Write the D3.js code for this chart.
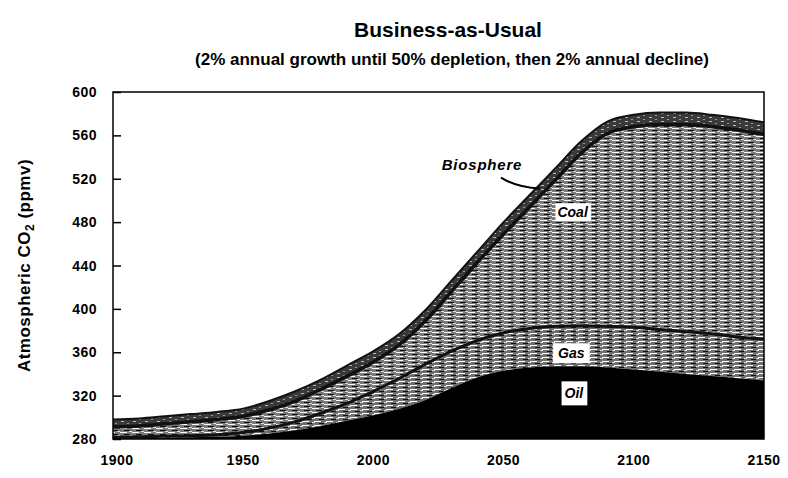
<!DOCTYPE html>
<html>
<head>
<meta charset="utf-8">
<script src="https://cdn.jsdelivr.net/npm/d3@7"></script>
<style>
  body { margin: 0; background: #fff; }
  text { font-family: "Liberation Sans", Arial, sans-serif; }
</style>
</head>
<body>
<div id="chart"></div>
<script>
// years and the top of each stacked layer (ppmv)
const years = [1900, 1910, 1920, 1930, 1940, 1950, 1960, 1970, 1980, 1990, 2000, 2010, 2020,
               2030, 2040, 2050, 2060, 2070, 2080, 2090, 2100, 2110, 2120, 2130, 2140, 2150];
const oilTop = [280.5, 280.8, 281, 281.5, 282, 283, 285, 288, 292, 297, 302, 308, 316,
                327, 337, 343, 346, 347, 347, 346, 344, 342, 340, 338, 336, 334];
const gasTop = [281.5, 282, 282.5, 283, 284, 286, 290, 296, 304, 313, 324, 336, 349,
                361, 371, 378, 382, 384, 384.5, 384, 383, 381, 379, 377, 374, 372];
const coalTop = [291, 292, 294, 296, 298, 301, 307, 315, 326, 338, 351, 367, 389,
                 416, 443, 469, 494, 519, 544, 562, 568, 570, 570, 568, 565, 561];
const bioTop = [298, 299, 301, 303, 305, 308, 315, 324, 335, 348, 361, 377, 399,
                426, 453, 480, 505, 530, 555, 573, 579, 581, 581, 579, 576, 572];
const baseline = 280;

const yTicks = [280, 320, 360, 400, 440, 480, 520, 560, 600];
const xTicks = [1900, 1950, 2000, 2050, 2100, 2150];

const width = 788, height = 478;
const svg = d3.select("#chart").append("svg")
    .attr("width", width)
    .attr("height", height);

const x = d3.scaleLinear().domain([1900, 2150]).range([113, 764]);
const y = d3.scaleLinear().domain([280, 600]).range([439, 92]);

// hatched fills that mimic the scanned halftone
const defs = svg.append("defs");
function hatch(id, bg, marks) {
    const p = defs.append("pattern")
        .attr("id", id)
        .attr("patternUnits", "userSpaceOnUse")
        .attr("width", 12).attr("height", 4);
    p.append("rect").attr("width", 12).attr("height", 4).attr("fill", bg);
    marks.forEach(m => p.append("rect")
        .attr("x", m[0]).attr("y", m[1]).attr("width", m[2]).attr("height", 1)
        .attr("fill", m[3]));
}
hatch("coalFill", "#7a7a7a", [[0, 0, 7, "#fff"], [4, 2, 6, "#111"], [9, 3, 3, "#ddd"]]);
hatch("gasFill", "#6e6e6e", [[2, 1, 7, "#fff"], [7, 3, 5, "#111"], [0, 2, 3, "#ddd"]]);
hatch("bioFill", "#3a3a3a", [[1, 1, 3, "#bbb"], [7, 3, 2, "#999"]]);

const rows = years.map((yr, i) => ({
    year: yr, base: baseline, oil: oilTop[i], gas: gasTop[i], coal: coalTop[i], bio: bioTop[i]
}));

const layers = [
    { lo: "coal", hi: "bio", fill: "url(#bioFill)" },
    { lo: "gas", hi: "coal", fill: "url(#coalFill)" },
    { lo: "oil", hi: "gas", fill: "url(#gasFill)" },
    { lo: "base", hi: "oil", fill: "#000" }
];

layers.forEach(l => {
    svg.append("path")
        .datum(rows)
        .attr("fill", l.fill)
        .attr("d", d3.area()
            .curve(d3.curveMonotoneX)
            .x(d => x(d.year))
            .y0(d => y(d[l.lo]))
            .y1(d => y(d[l.hi])));
});

// dark boundary lines between layers
[["bio", 2], ["coal", 3.5], ["gas", 3]].forEach(([key, w]) => {
    svg.append("path")
        .datum(rows)
        .attr("fill", "none")
        .attr("stroke", "#111")
        .attr("stroke-width", w)
        .attr("d", d3.line()
            .curve(d3.curveMonotoneX)
            .x(d => x(d.year))
            .y(d => y(d[key])));
});

// plot frame
svg.append("rect")
    .attr("x", x(1900)).attr("y", y(600))
    .attr("width", x(2150) - x(1900)).attr("height", y(280) - y(600))
    .attr("fill", "none").attr("stroke", "#000").attr("stroke-width", 1.5);

// axes, ticks pointing inward
const yAxis = svg.append("g")
    .attr("transform", `translate(${x(1900)},0)`)
    .call(d3.axisRight(y).tickValues(yTicks).tickSize(8).tickFormat(""));
yAxis.select(".domain").remove();
yAxis.selectAll("line").attr("stroke", "#000").attr("stroke-width", 1.5);

svg.selectAll(".ylab")
    .data(yTicks)
    .enter().append("text")
    .attr("class", "ylab")
    .attr("x", 97)
    .attr("y", d => y(d) + 5)
    .attr("text-anchor", "end")
    .style("font-size", "14px")
    .style("font-weight", "bold")
    .style("letter-spacing", "0.5px")
    .text(d => d);

svg.selectAll(".xlab")
    .data(xTicks)
    .enter().append("text")
    .attr("class", "xlab")
    .attr("x", d => x(d) + (d === 1900 ? 4 : 0))
    .attr("y", 465)
    .attr("text-anchor", "middle")
    .style("font-size", "14px")
    .style("font-weight", "bold")
    .style("letter-spacing", "0.5px")
    .text(d => d);

// titles
svg.append("text")
    .attr("x", 448).attr("y", 37)
    .attr("text-anchor", "middle")
    .style("font-size", "21px")
    .style("font-weight", "bold")
    .text("Business-as-Usual");

svg.append("text")
    .attr("x", 452).attr("y", 65)
    .attr("text-anchor", "middle")
    .style("font-size", "17px")
    .style("font-weight", "bold")
    .text("(2% annual growth until 50% depletion, then 2% annual decline)");

const yTitle = svg.append("text")
    .attr("transform", `translate(30, ${y(440)}) rotate(-90)`)
    .attr("text-anchor", "middle")
    .style("font-size", "17px")
    .style("font-weight", "bold")
    .style("letter-spacing", "0.5px");
yTitle.append("tspan").text("Atmospheric CO");
yTitle.append("tspan").attr("dy", 4).style("font-size", "12px").text("2");
yTitle.append("tspan").attr("dy", -4).text(" (ppmv)");

// layer labels
function boxLabel(txt, yr, v, padX, padY) {
    const g = svg.append("g").attr("transform", `translate(${x(yr)},${y(v)})`);
    const t = g.append("text")
        .attr("text-anchor", "middle")
        .attr("dy", "0.35em")
        .style("font-size", "14px")
        .style("font-weight", "bold")
        .style("font-style", "italic")
        .text(txt);
    const b = t.node().getBBox();
    g.insert("rect", "text")
        .attr("x", b.x - padX).attr("y", b.y - padY)
        .attr("width", b.width + 2 * padX).attr("height", b.height + 2 * padY)
        .attr("fill", "#fff");
}
boxLabel("Coal", 2076.5, 489, 2, 1);
boxLabel("Gas", 2076, 359, 5, 2);
boxLabel("Oil", 2077, 322, 3, 4);

svg.append("text")
    .attr("x", x(2041.7)).attr("y", y(533))
    .attr("dy", "0.35em")
    .attr("text-anchor", "middle")
    .style("font-size", "15px")
    .style("font-weight", "bold")
    .style("font-style", "italic")
    .style("letter-spacing", "0.8px")
    .text("Biosphere");

svg.append("path")
    .attr("d", `M${x(2049)},${y(521)} Q${x(2055)},${y(512)} ${x(2064)},${y(511)}`)
    .attr("fill", "none")
    .attr("stroke", "#000")
    .attr("stroke-width", 2);
</script>
</body>
</html>
